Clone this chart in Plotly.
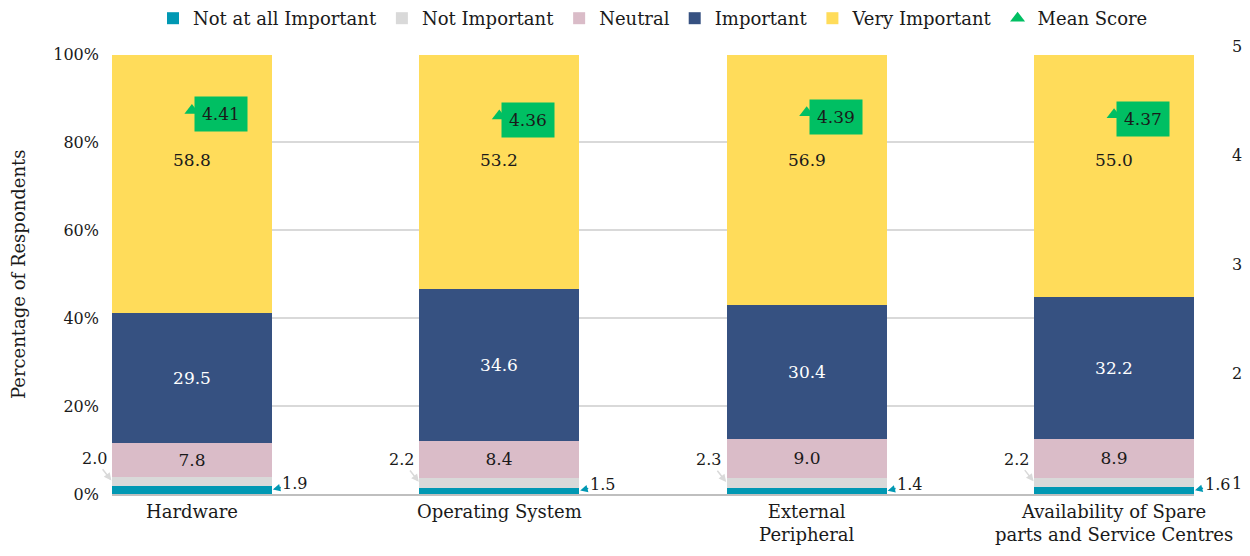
import plotly.graph_objects as go

# Survey categories (x axis) and response shares in percent
categories = ["Hardware", "Operating System", "External<br>Peripheral",
              "Availability of Spare<br>parts and Service Centres"]
not_at_all = [1.9, 1.5, 1.4, 1.6]
not_important = [2.0, 2.2, 2.3, 2.2]
neutral = [7.8, 8.4, 9.0, 8.9]
important = [29.5, 34.6, 30.4, 32.2]
very_important = [58.8, 53.2, 56.9, 55.0]
mean_score = [4.41, 4.36, 4.39, 4.37]

pct_ticks = [0, 20, 40, 60, 80, 100]
pct_labels = ["0%", "20%", "40%", "60%", "80%", "100%"]
score_ticks = [1, 2, 3, 4, 5]
score_labels = ["1", "2", "3", "4", "5"]

FONT = "DejaVu Serif, serif"
TXT = "#1a1a1a"
C_TEAL = "#0098B3"
C_GREY = "#D9D9D9"
C_PINK = "#DABCC8"
C_NAVY = "#365181"
C_YELLOW = "#FFDC5A"
C_GREEN = "#00BF63"

BAR_W = 0.52
YELLOW_LABEL_LEVEL = 76  # height (in %) where the top segment labels sit

idx = list(range(len(categories)))

fig = go.Figure()

series = [
    ("Not at all Important", not_at_all, C_TEAL, None),
    ("Not Important", not_important, C_GREY, None),
    ("Neutral", neutral, C_PINK, TXT),
    ("Important", important, C_NAVY, "white"),
    ("Very Important", very_important, C_YELLOW, None),
]
for name, vals, color, tcolor in series:
    fig.add_trace(go.Bar(
        x=idx, y=vals, name=name, width=BAR_W,
        marker=dict(color=color, line=dict(width=0)),
        text=[f"{v:.1f}" for v in vals] if tcolor else None,
        textposition="inside" if tcolor else "none",
        insidetextanchor="middle",
        textfont=dict(size=17, color=tcolor or TXT, family=FONT),
        hoverinfo="skip",
    ))

fig.add_trace(go.Scatter(
    x=idx, y=mean_score, yaxis="y2", mode="markers", name="Mean Score",
    marker=dict(symbol="triangle-up", size=13, color=C_GREEN),
    hoverinfo="skip",
))

annotations = []
for i in idx:
    # top segment labels
    annotations.append(dict(
        x=i, y=YELLOW_LABEL_LEVEL, xref="x", yref="y",
        text=f"{very_important[i]:.1f}", showarrow=False,
        font=dict(size=17, color=TXT, family=FONT),
    ))
    # mean score badges
    annotations.append(dict(
        x=i, y=mean_score[i], xref="x", yref="y2",
        text=f"{mean_score[i]:.2f}", showarrow=False,
        xanchor="left", yanchor="middle", xshift=2, yshift=-4,
        bgcolor=C_GREEN, borderpad=7,
        font=dict(size=17, color=TXT, family=FONT),
    ))
    # small "Not Important" share, called out to the left
    annotations.append(dict(
        x=i - BAR_W / 2, y=not_at_all[i] + not_important[i] / 2,
        xref="x", yref="y", text=f"{not_important[i]:.1f}",
        showarrow=True, ax=-18, ay=-23, arrowhead=2, arrowsize=1,
        arrowwidth=1.5, arrowcolor=C_GREY, standoff=1,
        font=dict(size=16, color=TXT, family=FONT),
    ))
    # small "Not at all Important" share, called out to the right
    annotations.append(dict(
        x=i + BAR_W / 2, y=not_at_all[i] / 2,
        xref="x", yref="y", text=f"{not_at_all[i]:.1f}",
        showarrow=True, ax=23, ay=-6, arrowhead=2, arrowsize=1,
        arrowwidth=1.5, arrowcolor=C_TEAL, standoff=1,
        font=dict(size=16, color=TXT, family=FONT),
    ))

fig.update_layout(
    width=1250, height=556,
    barmode="stack",
    bargap=0,
    paper_bgcolor="white",
    plot_bgcolor="rgba(0,0,0,0)",
    font=dict(family=FONT, color=TXT, size=17),
    margin=dict(l=112, r=56, t=46, b=62, pad=0, autoexpand=False),
    showlegend=True,
    legend=dict(
        orientation="h", x=0.5, xanchor="center",
        yref="container", y=1.0, yanchor="top",
        traceorder="normal", itemwidth=30,
        font=dict(size=18, family=FONT, color=TXT),
        bgcolor="rgba(0,0,0,0)",
    ),
    xaxis=dict(
        tickvals=idx, ticktext=categories, range=[-0.26, 3.26],
        showline=True, linecolor="#BFBFBF", linewidth=2,
        showgrid=False, zeroline=False, ticks="",
        tickfont=dict(size=18, family=FONT, color=TXT),
        anchor="y", automargin=False,
    ),
    yaxis=dict(
        domain=[0, 0.981], range=[0, 100],
        tickvals=pct_ticks, ticktext=pct_labels,
        showgrid=True, gridcolor=C_GREY, gridwidth=1.5,
        zeroline=False, showline=False, ticks="",
        ticklabelstandoff=12, automargin=False,
        tickfont=dict(size=16, family=FONT, color=TXT),
        title=dict(text="Percentage of Respondents", standoff=22,
                   font=dict(size=18, family=FONT, color=TXT)),
    ),
    yaxis2=dict(
        domain=[0, 1], range=[0.9, 5.0], anchor="x", side="right",
        tickvals=score_ticks, ticktext=score_labels,
        showgrid=False, zeroline=False, showline=False, ticks="",
        ticklabelstandoff=37, automargin=False,
        tickfont=dict(size=16, family=FONT, color=TXT),
    ),
    annotations=annotations,
)

fig.write_html("out.html")
